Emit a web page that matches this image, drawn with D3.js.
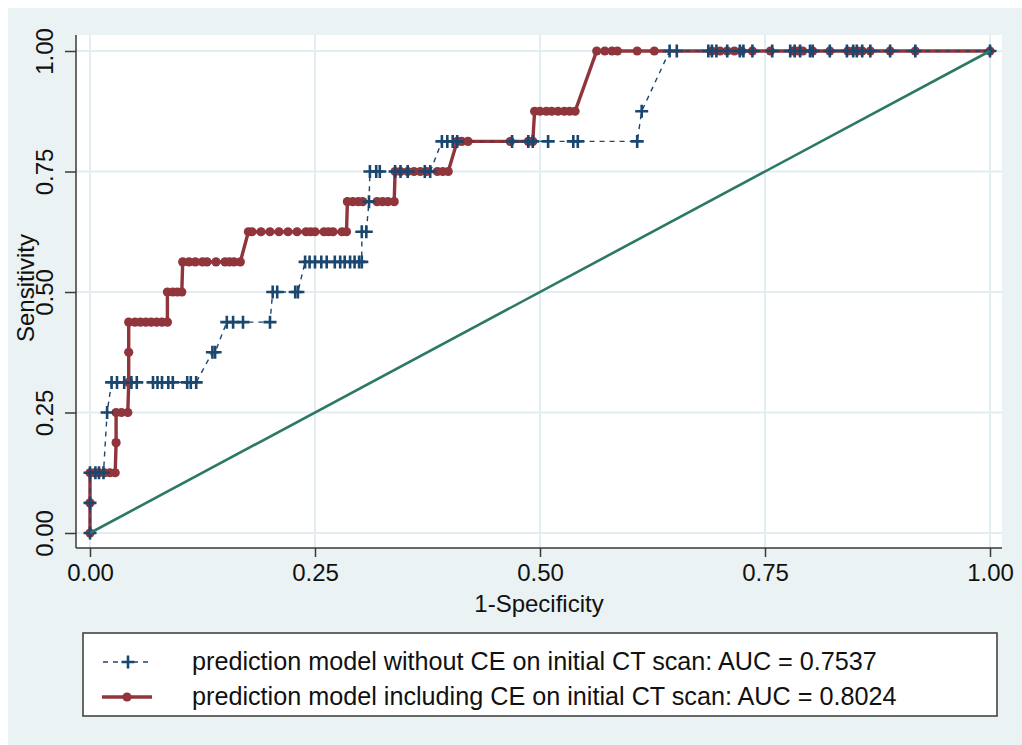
<!DOCTYPE html>
<html>
<head>
<meta charset="utf-8">
<script src="https://cdn.jsdelivr.net/npm/d3@7"></script>
<style>
  body { margin: 0; background: #fff; }
  text { font-family: "Liberation Sans", Arial, sans-serif; fill: #111; }
</style>
</head>
<body>
<div id="chart"></div>
<script>
// sensitivity steps (16 positives)
const sensLevels = [0, 0.0625, 0.125, 0.1875, 0.25, 0.3125, 0.375, 0.4375,
  0.5, 0.5625, 0.625, 0.6875, 0.75, 0.8125, 0.875, 1]

// 1-specificity values, one list per sensitivity level
const fprWithoutCE = [
  [0],
  [0],
  [0, 0.006, 0.01, 0.015],
  [],
  [0.019],
  [0.024, 0.03, 0.038, 0.046, 0.052, 0.07, 0.075, 0.08, 0.087, 0.092, 0.108, 0.112, 0.118],
  [0.136, 0.139],
  [0.152, 0.159, 0.17, 0.2],
  [0.203, 0.208, 0.228, 0.231],
  [0.239, 0.244, 0.25, 0.257, 0.263, 0.272, 0.278, 0.283, 0.289, 0.294, 0.299, 0.302],
  [0.302, 0.307],
  [0.31],
  [0.311, 0.318, 0.322, 0.339, 0.345, 0.353, 0.372, 0.378],
  [0.391, 0.397, 0.403, 0.408, 0.469, 0.487, 0.492, 0.509, 0.537, 0.542, 0.608],
  [0.613],
  [0.644, 0.652, 0.687, 0.691, 0.696, 0.708, 0.722, 0.726, 0.736, 0.758, 0.778, 0.783,
   0.789, 0.8, 0.803, 0.822, 0.841, 0.848, 0.852, 0.858, 0.867, 0.889, 0.917, 1]
]

const fprWithCE = [
  [0],
  [0],
  [0, 0.005, 0.01, 0.016, 0.022, 0.028],
  [0.029],
  [0.029, 0.035, 0.042],
  [0.043],
  [0.043],
  [0.043, 0.05, 0.056, 0.062, 0.068, 0.074, 0.08, 0.086],
  [0.086, 0.092, 0.097, 0.102],
  [0.103, 0.11, 0.117, 0.125, 0.13, 0.14, 0.15, 0.155, 0.16, 0.167],
  [0.176, 0.18, 0.19, 0.2, 0.21, 0.22, 0.23, 0.24, 0.245, 0.25, 0.26, 0.265, 0.27, 0.28, 0.285],
  [0.286, 0.292, 0.298, 0.303, 0.319, 0.325, 0.331, 0.338],
  [0.339, 0.345, 0.353, 0.36, 0.367, 0.374, 0.386, 0.392, 0.398],
  [0.408, 0.413, 0.42, 0.467, 0.487, 0.492],
  [0.494, 0.5, 0.507, 0.513, 0.52, 0.527, 0.533, 0.539],
  [0.563, 0.572, 0.58, 0.586, 0.608, 0.627, 0.691, 0.7, 0.708, 0.716, 0.724, 0.736, 0.756,
   0.781, 0.787, 0.792, 0.803, 0.822, 0.842, 0.848, 0.853, 0.858, 0.867, 0.889, 0.917, 1]
]

const tickValues = [0, 0.25, 0.5, 0.75, 1]
const legendLabels = [
  "prediction model without CE on initial CT scan: AUC = 0.7537",
  "prediction model including CE on initial CT scan: AUC = 0.8024"
]

const width = 1022, height = 745
const navy = "#1a476f", maroon = "#90353b", green = "#2c7866"
const bg = "#eaf2f3", gridCol = "#e3edf1"

// flatten level lists into [fpr, sens] points
const toPoints = (lists) => lists.flatMap((l, i) => l.map(f => [f, sensLevels[i]]))
const ptsWithout = toPoints(fprWithoutCE)
const ptsWith = toPoints(fprWithCE)

const svg = d3.select("#chart").append("svg")
  .attr("width", width).attr("height", height)

svg.append("rect").attr("x", 8).attr("y", 8)
  .attr("width", width - 8).attr("height", height - 8).attr("fill", bg)

const plot = {left: 76, right: 1002, top: 35, bottom: 548}
svg.append("rect").attr("x", plot.left).attr("y", plot.top)
  .attr("width", plot.right - plot.left).attr("height", plot.bottom - plot.top)
  .attr("fill", "#fff")

const x = d3.scaleLinear().domain([0, 1]).range([90, 990])
const y = d3.scaleLinear().domain([0, 1]).range([533, 51])

// grid
svg.append("g").selectAll("line").data(tickValues).join("line")
  .attr("x1", d => x(d)).attr("x2", d => x(d))
  .attr("y1", plot.top).attr("y2", plot.bottom)
  .attr("stroke", gridCol).attr("stroke-width", 2)
svg.append("g").selectAll("line").data(tickValues).join("line")
  .attr("y1", d => y(d)).attr("y2", d => y(d))
  .attr("x1", plot.left).attr("x2", plot.right)
  .attr("stroke", gridCol).attr("stroke-width", 2)

// axes
const xAxis = d3.axisBottom(x).tickValues(tickValues).tickFormat(d3.format(".2f"))
  .tickSize(9).tickPadding(7)
const gx = svg.append("g").attr("transform", `translate(0,${plot.bottom})`).call(xAxis)
gx.select(".domain").attr("d", `M${plot.left},0H${plot.right}`)
const yAxis = d3.axisLeft(y).tickValues(tickValues).tickFormat(d3.format(".2f"))
  .tickSize(11).tickPadding(0)
const gy = svg.append("g").attr("transform", `translate(${plot.left},0)`).call(yAxis)
gy.select(".domain").attr("d", `M0,${plot.top}V${plot.bottom}`)

svg.selectAll(".domain, .tick line").attr("stroke", "#3a3a3a").attr("stroke-width", 1.5)
gx.selectAll("text").attr("font-size", 24).attr("fill", "#111")
  .attr("font-family", "Liberation Sans, Arial, sans-serif")
gy.selectAll(".tick text")
  .attr("font-size", 24).attr("fill", "#111")
  .attr("font-family", "Liberation Sans, Arial, sans-serif")
  .attr("text-anchor", "middle").attr("dy", null)
  .attr("x", null)
  .attr("transform", "translate(-23,0) rotate(-90)")

svg.append("text").attr("x", (plot.left + plot.right) / 2).attr("y", 612)
  .attr("text-anchor", "middle").attr("font-size", 24).text("1-Specificity")
svg.append("text").attr("transform", "translate(34,288) rotate(-90)")
  .attr("text-anchor", "middle").attr("font-size", 24).text("Sensitivity")

const line = d3.line().x(d => x(d[0])).y(d => y(d[1]))

// model including CE
svg.append("path").datum(ptsWith).attr("d", line)
  .attr("fill", "none").attr("stroke", maroon).attr("stroke-width", 3.4)
svg.append("g").selectAll("circle").data(ptsWith).join("circle")
  .attr("cx", d => x(d[0])).attr("cy", d => y(d[1])).attr("r", 4.6)
  .attr("fill", maroon)

// model without CE
const plus = (s) => `M${-s},0H${s}M0,${-s}V${s}`
svg.append("path").datum(ptsWithout).attr("d", line)
  .attr("fill", "none").attr("stroke", navy).attr("stroke-width", 1.4)
  .attr("stroke-dasharray", "5,5")
svg.append("g").selectAll("path").data(ptsWithout).join("path")
  .attr("transform", d => `translate(${x(d[0])},${y(d[1])})`)
  .attr("d", plus(6.5)).attr("stroke", navy).attr("stroke-width", 2.6).attr("fill", "none")

// reference line
svg.append("line").attr("x1", x(0)).attr("y1", y(0)).attr("x2", x(1)).attr("y2", y(1))
  .attr("stroke", green).attr("stroke-width", 2.6)

// legend
const leg = svg.append("g")
leg.append("rect").attr("x", 83).attr("y", 633).attr("width", 914).attr("height", 83)
  .attr("fill", "#fff").attr("stroke", "#444").attr("stroke-width", 1.6)
leg.append("line").attr("x1", 103).attr("x2", 153).attr("y1", 662).attr("y2", 662)
  .attr("stroke", navy).attr("stroke-width", 1.4).attr("stroke-dasharray", "5,5")
leg.append("path").attr("transform", "translate(128,662)").attr("d", plus(6.5))
  .attr("stroke", navy).attr("stroke-width", 2.6)
leg.append("line").attr("x1", 102).attr("x2", 152).attr("y1", 697).attr("y2", 697)
  .attr("stroke", maroon).attr("stroke-width", 3.4)
leg.append("circle").attr("cx", 127).attr("cy", 697).attr("r", 4.6).attr("fill", maroon)
leg.selectAll("text.lab").data(legendLabels).join("text").attr("class", "lab")
  .attr("x", 192).attr("y", (d, i) => 670 + i * 35)
  .attr("font-size", 25.2).text(d => d)
</script>
</body>
</html>
